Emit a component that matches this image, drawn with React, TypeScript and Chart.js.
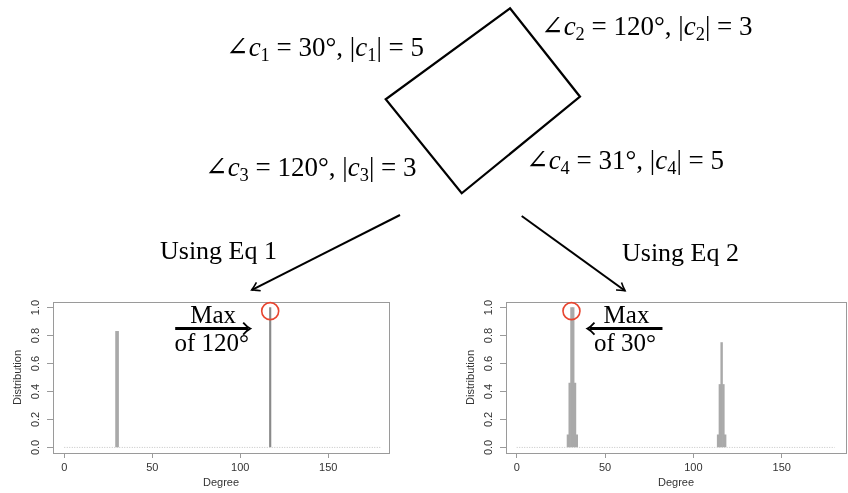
import React, { useEffect, useRef } from "react";
import { Chart, registerables } from "chart.js";

Chart.register(...registerables);

// ---------- data ----------
const xTickValues = [0, 50, 100, 150];
const yTickValues = [0, 0.2, 0.4, 0.6, 0.8, 1.0];

// "Using Eq 1" distribution over degree
const eq1WideDegrees = [30];
const eq1WideValues = [0.83];
const eq1ThinDegrees = [117];
const eq1ThinValues = [1.0];

// "Using Eq 2" distribution over degree
const eq2Degrees = [29, 30, 31, 32, 33, 34, 114, 115, 116, 117, 118];
const eq2Values = [0.09, 0.46, 1.0, 1.0, 0.46, 0.09, 0.09, 0.45, 0.75, 0.45, 0.09];

// baseline (zero level) extent
const baselineDegrees = [0, 180];
const baselineValues = [0, 0];

// diagram labels
const cornerAngles = [30, 120, 120, 31];
const cornerMagnitudes = [5, 3, 3, 5];
const equationLabels = ["Using Eq 1", "Using Eq 2"];
const maxNotes = [
  ["Max", "of 120°"],
  ["Max", "of 30°"],
];

const AXIS_FONT = "'Liberation Sans', Arial, sans-serif";
const SERIF = "'Liberation Serif', 'DejaVu Serif', serif";

const pts = (xs: number[], ys: number[]) => xs.map((x, i) => ({ x, y: ys[i] }));

function boxPlugin() {
  return {
    id: "rbox",
    afterDraw(chart: any) {
      const { ctx, chartArea: a, scales } = chart;
      ctx.save();
      ctx.strokeStyle = "#9a9a9a";
      ctx.lineWidth = 1;
      ctx.strokeRect(Math.round(a.left) + 0.5, Math.round(a.top) + 0.5, Math.round(a.right - a.left), Math.round(a.bottom - a.top));
      // rotated y tick labels (R style)
      const ys = scales.y;
      ctx.fillStyle = "#333";
      ctx.font = `11px ${AXIS_FONT}`;
      ctx.textAlign = "center";
      ctx.textBaseline = "middle";
      ys.ticks.forEach((t: any) => {
        const py = ys.getPixelForValue(t.value);
        ctx.save();
        ctx.translate(a.left - 17, py);
        ctx.rotate(-Math.PI / 2);
        ctx.fillText(Number(t.value).toFixed(1), 0, 0);
        ctx.restore();
      });
      ctx.restore();
    },
  };
}

function notePlugin(lines: string[], side: "left" | "right") {
  return {
    id: "peakNote",
    afterDraw(chart: any) {
      const { ctx, scales } = chart;
      // find the peak among bar datasets
      let best = { x: 0, y: -Infinity };
      chart.data.datasets.forEach((ds: any) => {
        if (ds.type === "line") return;
        ds.data.forEach((p: any) => {
          if (p.y > best.y) best = p;
        });
      });
      const px = scales.x.getPixelForValue(best.x);
      const py = scales.y.getPixelForValue(best.y);
      ctx.save();
      // red circle
      ctx.strokeStyle = "#e8452f";
      ctx.lineWidth = 1.6;
      ctx.beginPath();
      ctx.arc(px, py + 3.5, 8.5, 0, Math.PI * 2);
      ctx.stroke();
      // arrow
      const ay = py + 21;
      const dir = side === "left" ? 1 : -1;
      const tip = side === "left" ? px - 20 : px + 16;
      const tail = side === "left" ? px - 95 : px + 91;
      ctx.strokeStyle = "#000";
      ctx.lineWidth = 3;
      ctx.beginPath();
      ctx.moveTo(tail, ay);
      ctx.lineTo(tip - dir * 2, ay);
      ctx.stroke();
      ctx.lineWidth = 1.8;
      ctx.beginPath();
      ctx.moveTo(tip - dir * 7, ay - 6);
      ctx.quadraticCurveTo(tip - dir * 3, ay - 1.5, tip, ay);
      ctx.quadraticCurveTo(tip - dir * 3, ay + 1.5, tip - dir * 7, ay + 6);
      ctx.stroke();
      // text
      ctx.fillStyle = "#000";
      ctx.font = `25px ${SERIF}`;
      ctx.textAlign = "center";
      ctx.textBaseline = "alphabetic";
      const cx = side === "left" ? px - 57 : px + 55;
      ctx.fillText(lines[0], cx, py + 15);
      ctx.fillText(lines[1], cx - 1.5, py + 43);
      ctx.restore();
    },
  };
}

function makeOptions(xMin: number, xMax: number, padRight: number) {
  return {
    responsive: false,
    animation: false as const,
    layout: { padding: { top: 12, right: padRight, left: 0, bottom: 0 } },
    plugins: { legend: { display: false }, tooltip: { enabled: false } },
    datasets: { bar: { grouped: false } },
    scales: {
      x: {
        type: "linear" as const,
        min: xMin,
        max: xMax,
        offset: false,
        afterBuildTicks(s: any) {
          s.ticks = xTickValues.map((v) => ({ value: v }));
        },
        afterFit(s: any) {
          s.height = 40;
        },
        ticks: {
          color: "#333",
          font: { family: AXIS_FONT, size: 11 },
          padding: 3,
          maxRotation: 0,
          autoSkip: false,
          callback: (v: any) => String(v),
        },
        grid: { drawOnChartArea: false, drawTicks: true, tickLength: 5, color: "#9a9a9a", offset: false },
        border: { display: false },
        title: {
          display: true,
          text: "Degree",
          color: "#333",
          font: { family: AXIS_FONT, size: 11 },
          padding: { top: 0, bottom: 3.4 },
        },
      },
      y: {
        type: "linear" as const,
        min: -0.04,
        max: 1.04,
        afterBuildTicks(s: any) {
          s.ticks = yTickValues.map((v) => ({ value: v }));
        },
        afterFit(s: any) {
          s.width = 53;
        },
        ticks: { display: false },
        grid: { drawOnChartArea: false, drawTicks: true, tickLength: 6, color: "#9a9a9a" },
        border: { display: false },
        title: {
          display: true,
          text: "Distribution",
          color: "#333",
          font: { family: AXIS_FONT, size: 11 },
          padding: { top: 11.4, bottom: 0 },
        },
      },
    },
  };
}

const baselineDataset = () => ({
  type: "line" as const,
  data: pts(baselineDegrees, baselineValues),
  borderColor: "#c4c4c4",
  borderWidth: 1,
  borderDash: [1, 1.5],
  pointRadius: 0,
});

function ChartBox(props: { left: number; top: number; width: number; height: number; make: (c: HTMLCanvasElement) => Chart }) {
  const ref = useRef<HTMLCanvasElement>(null);
  useEffect(() => {
    const chart = props.make(ref.current!);
    return () => chart.destroy();
  }, []);
  return (
    <canvas
      ref={ref}
      width={props.width}
      height={props.height}
      style={{ position: "absolute", left: props.left, top: props.top, width: props.width, height: props.height }}
    />
  );
}

const makeLeft = (c: HTMLCanvasElement) =>
  new Chart(c, {
    type: "bar",
    data: {
      datasets: [
        baselineDataset() as any,
        { data: pts(eq1WideDegrees, eq1WideValues), backgroundColor: "#a9a9a9", barThickness: 3 },
        { data: pts(eq1ThinDegrees, eq1ThinValues), backgroundColor: "#8a8a8a", barThickness: 1.5 },
      ],
    },
    options: makeOptions(-6.4, 184.5, 11) as any,
    plugins: [boxPlugin(), notePlugin(maxNotes[0], "left")],
  });

const makeRight = (c: HTMLCanvasElement) =>
  new Chart(c, {
    type: "bar",
    data: {
      datasets: [
        baselineDataset() as any,
        { data: pts(eq2Degrees, eq2Values), backgroundColor: "#a9a9a9", barPercentage: 1, categoryPercentage: 1 },
      ],
    },
    options: makeOptions(-6.06, 186.4, 2) as any,
    plugins: [boxPlugin(), notePlugin(maxNotes[1], "right")],
  });

function arrowHead(x1: number, y1: number, x2: number, y2: number, len = 9, spread = 0.55) {
  const th = Math.atan2(y2 - y1, x2 - x1);
  const ax = x2 - len * Math.cos(th - spread);
  const ay = y2 - len * Math.sin(th - spread);
  const bx = x2 - len * Math.cos(th + spread);
  const by = y2 - len * Math.sin(th + spread);
  const cx = x2 - 3 * Math.cos(th);
  const cy = y2 - 3 * Math.sin(th);
  return `M${ax},${ay} Q${(ax + cx) / 2 + (x2 - cx) * 0.3},${(ay + cy) / 2 + (y2 - cy) * 0.3} ${x2},${y2} Q${(bx + cx) / 2 + (x2 - cx) * 0.3},${(by + cy) / 2 + (y2 - cy) * 0.3} ${bx},${by}`;
}

function MathLabel({ x, y, i }: { x: number; y: number; i: number }) {
  const fs = 27;
  const sub = fs * 0.68;
  const d = fs * 0.2;
  return (
    <text x={x} y={y} fontFamily={SERIF} fontSize={fs} fill="#000" style={{ whiteSpace: "pre" }}>
      <tspan>∠</tspan>
      <tspan fontStyle="italic">c</tspan>
      <tspan fontSize={sub} dy={d}>{String(i + 1)}</tspan>
      <tspan dy={-d}>{` = ${cornerAngles[i]}°, |`}</tspan>
      <tspan fontStyle="italic">c</tspan>
      <tspan fontSize={sub} dy={d}>{String(i + 1)}</tspan>
      <tspan dy={-d}>{`| = ${cornerMagnitudes[i]}`}</tspan>
    </text>
  );
}

function Diagram() {
  const corners = [
    [510, 8.3],
    [580, 96.7],
    [461.7, 193.3],
    [385.7, 99.3],
  ];
  const a1 = [400, 215, 251.7, 290];
  const a2 = [521.7, 216, 625, 290.7];
  return (
    <svg width={848} height={493} viewBox="0 0 848 493" style={{ position: "absolute", left: 0, top: 0, pointerEvents: "none" }}>
      <polygon points={corners.map((p) => p.join(",")).join(" ")} fill="none" stroke="#000" strokeWidth={2.2} strokeLinejoin="miter" />
      <MathLabel x={226} y={56} i={0} />
      <MathLabel x={541} y={35} i={1} />
      <MathLabel x={205} y={176} i={2} />
      <MathLabel x={526} y={169} i={3} />
      <line x1={a1[0]} y1={a1[1]} x2={a1[2]} y2={a1[3]} stroke="#000" strokeWidth={2} />
      <path d={arrowHead(a1[0], a1[1], a1[2], a1[3])} fill="none" stroke="#000" strokeWidth={1.6} />
      <line x1={a2[0]} y1={a2[1]} x2={a2[2]} y2={a2[3]} stroke="#000" strokeWidth={2} />
      <path d={arrowHead(a2[0], a2[1], a2[2], a2[3])} fill="none" stroke="#000" strokeWidth={1.6} />
      <text x={160} y={259} fontFamily={SERIF} fontSize={26} fill="#000">{equationLabels[0]}</text>
      <text x={622} y={261} fontFamily={SERIF} fontSize={26} fill="#000">{equationLabels[1]}</text>
    </svg>
  );
}

export default function App() {
  return (
    <div style={{ position: "absolute", left: 0, top: 0, width: 848, height: 493, background: "#fff", overflow: "hidden" }}>
      <ChartBox left={0} top={290} width={400} height={203} make={makeLeft} />
      <ChartBox left={453} top={290} width={395} height={203} make={makeRight} />
      <Diagram />
    </div>
  );
}
